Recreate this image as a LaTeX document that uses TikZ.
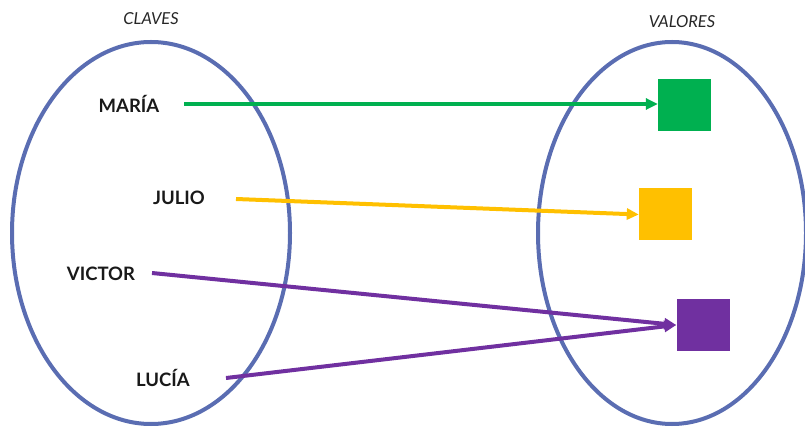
\documentclass[tikz,border=0pt]{standalone}
\usepackage{fontspec}
\setmainfont{Lato}
\usetikzlibrary{arrows.meta}
\definecolor{ellblue}{HTML}{5A6DB2}
\definecolor{vgreen}{HTML}{00B050}
\definecolor{vyellow}{HTML}{FFC000}
\definecolor{vpurple}{HTML}{7030A0}
\begin{document}
\begin{tikzpicture}[x=1pt,y=-1pt,
  set/.style={draw=ellblue,line width=4pt},
  key/.style={font=\fontsize{18.5}{20}\selectfont\bfseries,text=black!90,inner sep=0pt},
  title/.style={font=\fontsize{16.5}{18}\selectfont\itshape,text=black!85},
  val/.style={minimum width=53pt,minimum height=52pt,inner sep=0pt},
  link/.style={line width=4pt,-{Triangle[length=12pt,width=11pt]}}]
\useasboundingbox (0,0) rectangle (805,427);
\draw[set] (151,233) ellipse [x radius=139, y radius=191];
\draw[set] (672,233) ellipse [x radius=134, y radius=191];
\node[title] (tk) at (151,19) {CLAVES};
\node[title] (tv) at (682,22) {VALORES};
\node[key] (maria) at (129,104) {MARÍA};
\node[key] (julio) at (179,198) {JULIO};
\node[key] (victor) at (101,274) {VICTOR};
\node[key] (lucia) at (163,378) {LUCÍA};
\node[val,fill=vgreen] (g) at (684.5,105) {};
\node[val,fill=vyellow] (y) at (665.5,214.5) {};
\node[val,fill=vpurple] (p) at (703,325) {};
\coordinate (ms) at (184,104);
\coordinate (js) at (236,199);
\coordinate (vs) at (152,273);
\coordinate (ls) at (226,378);
\draw[link,vgreen] (ms) -- (g.west |- ms);
\draw[link,vyellow] (js) -- (y.west);
\draw[link,vpurple] (vs) -- (p.west);
\draw[link,vpurple] (ls) -- (p.west);
\end{tikzpicture}
\end{document}
